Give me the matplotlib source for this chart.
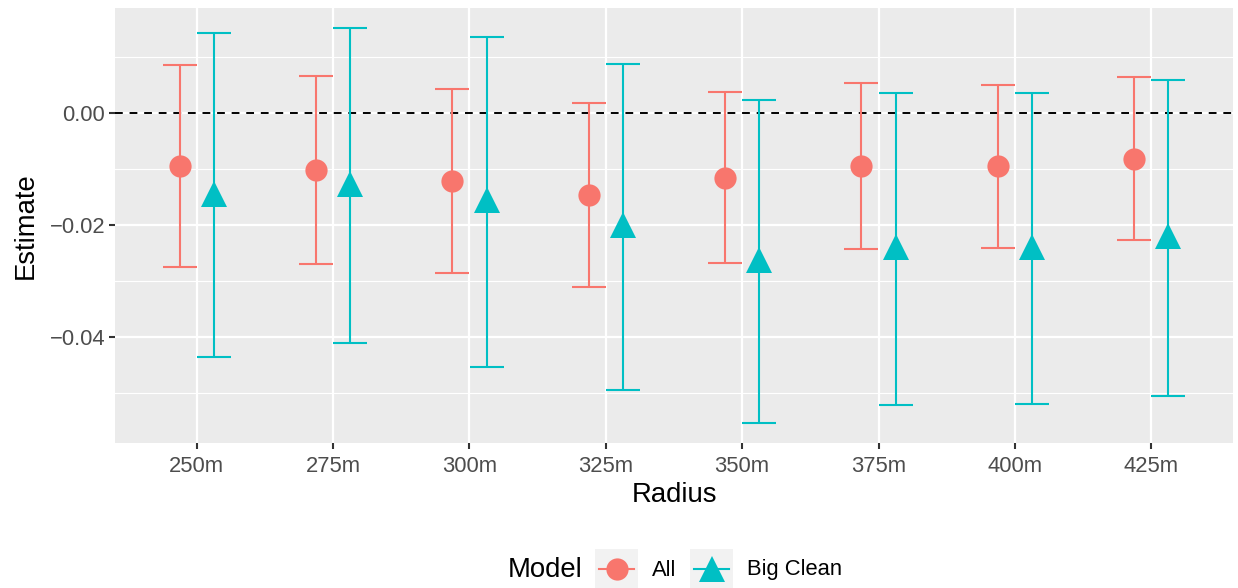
import matplotlib.pyplot as plt
import numpy as np

plt.rcParams['font.family'] = ['Liberation Sans', 'DejaVu Sans']

# data
radius = ['250m', '275m', '300m', '325m', '350m', '375m', '400m', '425m']
all_est = [-0.0095, -0.0102, -0.0121, -0.0146, -0.0116, -0.0094, -0.0095, -0.0082]
all_lo = [-0.0275, -0.0270, -0.0286, -0.0311, -0.0268, -0.0243, -0.0241, -0.0227]
all_hi = [0.0086, 0.0066, 0.0043, 0.0018, 0.0038, 0.0054, 0.0050, 0.0064]
big_est = [-0.0144, -0.0127, -0.0156, -0.0200, -0.0262, -0.0240, -0.0240, -0.0220]
big_lo = [-0.0436, -0.0411, -0.0454, -0.0495, -0.0554, -0.0521, -0.0520, -0.0505]
big_hi = [0.0143, 0.0152, 0.0136, 0.0088, 0.0023, 0.0036, 0.0036, 0.0059]

RED = '#F8766D'
TEAL = '#00BFC4'

fig = plt.figure(figsize=(12.38, 5.88), dpi=100)
ax = fig.add_axes([115/1238, 1-443/588, 1118/1238, 435/588])
ax.set_facecolor('#EBEBEB')

x = np.arange(1, len(radius) + 1)
dodge = 0.125

ax.axhline(0, color='black', lw=1.4, dashes=(4, 3.5), zorder=2)

for xs, est, lo, hi, col, mk, ms in [
        (x - dodge, all_est, all_lo, all_hi, RED, 'o', 16),
        (x + dodge, big_est, big_lo, big_hi, TEAL, '^', 19)]:
    est = np.array(est)
    yerr = [est - np.array(lo), np.array(hi) - est]
    ax.errorbar(xs, est, yerr=yerr, fmt='none', ecolor=col, elinewidth=1.5,
                capsize=12, capthick=1.5, zorder=3)
    ax.plot(xs, est, linestyle='none', marker=mk, color=col, markersize=ms,
            markeredgewidth=0, zorder=4)

ax.set_xlim(0.4, 8.6)
ax.set_ylim(-0.0589, 0.01875)
ax.set_xticks(x)
ax.set_xticklabels(radius)
ax.set_yticks([0.0, -0.02, -0.04])
ax.set_yticklabels(['0.00', '\u22120.02', '\u22120.04'])
ax.set_yticks([0.01, -0.01, -0.03, -0.05], minor=True)
ax.grid(which='major', color='white', lw=1.6)
ax.grid(which='minor', axis='y', color='white', lw=0.8)
ax.set_axisbelow(True)
for s in ax.spines.values():
    s.set_visible(False)
ax.tick_params(which='major', length=4, width=1.5, color='#333333',
               labelsize=15.8, labelcolor='#4D4D4D', pad=3)
ax.tick_params(axis='x', which='major', pad=5)
ax.tick_params(which='minor', length=0)
ax.set_xlabel('Radius', fontsize=19.8, labelpad=4)
ax.set_ylabel('Estimate', fontsize=19.8, labelpad=8)

# legend
ky = 1 - 570/588
fig.text(508/1238, ky, 'Model', fontsize=19.8, va='center', ha='left')
for x0, col, mk, ms, lab in [(595, RED, 'o', 16, 'All'), (690, TEAL, '^', 19, 'Big Clean')]:
    kax = fig.add_axes([x0/1238, 0, 43/1238, 39/588])
    kax.set_facecolor('#F2F2F2')
    kax.set_xlim(0, 1)
    kax.set_ylim(0, 1)
    kax.plot([0.1, 0.9], [0.5, 0.5], color=col, lw=1.5)
    kax.plot([0.5], [0.5], marker=mk, color=col, markersize=ms, markeredgewidth=0)
    kax.set_xticks([])
    kax.set_yticks([])
    for s in kax.spines.values():
        s.set_visible(False)
    fig.text((x0 + 57)/1238, ky, lab, fontsize=15.8, va='center', ha='left')

fig.savefig('out.png', dpi=100)
